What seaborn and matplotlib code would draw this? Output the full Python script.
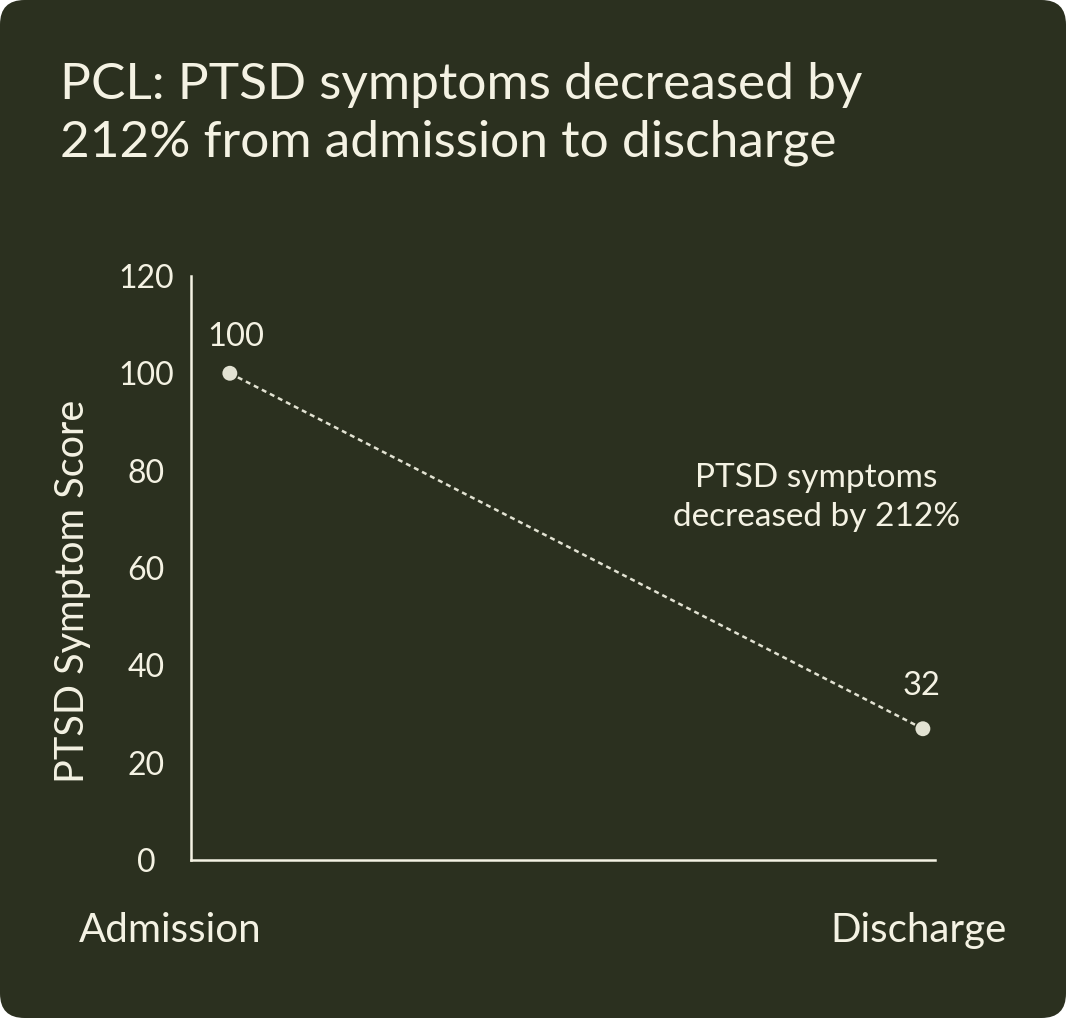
import pandas as pd
import matplotlib
matplotlib.use("Agg")
import matplotlib.pyplot as plt
from matplotlib.patches import FancyBboxPatch
from matplotlib.transforms import ScaledTranslation
import seaborn as sns

# 数据
stages = ["Admission", "Discharge"]
scores = [100, 27]              # where the dots sit on the chart
score_labels = ["100", "32"]    # numbers printed above the dots
y_ticks = [0, 20, 40, 60, 80, 100, 120]
title = "PCL: PTSD symptoms decreased by\n212% from admission to discharge"
note = "PTSD symptoms\ndecreased by 212%"
y_title = "PTSD Symptom Score"

bg = "#2b301f"
fg = "#f4f2e3"
dot = "#e2e2d2"

sns.set_theme(style="white")
plt.rcParams["font.family"] = ["Lato", "DejaVu Sans"]

df = pd.DataFrame({"stage": stages, "score": scores})
df["x"] = range(len(df))

fig = plt.figure(figsize=(10.66, 10.18), dpi=100)
fig.patch.set_facecolor("white")
card = FancyBboxPatch((0, 0), 1, 1, boxstyle="round,pad=0,rounding_size=0.023",
                      mutation_aspect=1066 / 1018, transform=fig.transFigure,
                      facecolor=bg, edgecolor="none", zorder=-10)
fig.add_artist(card)

ax = fig.add_axes([0.179, 0.155, 0.698, 0.574])
ax.set_facecolor("none")

# 虚线 + 圆点
sns.lineplot(data=df, x="x", y="score", ax=ax, color=dot, lw=1.8,
             linestyle=(0, (2, 1.6)))
sns.scatterplot(data=df, x="x", y="score", ax=ax, color=dot, s=115,
                edgecolor="none", zorder=3)

offsets = [(4, 19.5), (-1, 24)]
for x, s, lab, off in zip(df["x"], df["score"], score_labels, offsets):
    ax.annotate(lab, (x, s), xytext=off, textcoords="offset points",
                ha="center", va="baseline", fontsize=23.5, color=fg)

ax.text(0.846, 74.5, note, ha="center", va="center", fontsize=24, color=fg,
        linespacing=1.4)

ax.set_xlim(-0.0563, 1.0173)
ax.set_ylim(0, 120)
ax.set_yticks(y_ticks)
ax.set_xticks(df["x"], stages)
ax.set_xlabel("")
ax.set_ylabel("")

for side in ["top", "right"]:
    ax.spines[side].set_visible(False)
for side in ["left", "bottom"]:
    ax.spines[side].set_color(fg)
    ax.spines[side].set_linewidth(1.8)

ax.tick_params(axis="y", length=0, pad=32, labelsize=23, labelcolor=fg)
for t in ax.get_yticklabels():
    t.set_ha("center")
ax.tick_params(axis="x", length=0, pad=37, labelsize=29, labelcolor=fg)
x_shift = [-60, -4]
for t, dx in zip(ax.get_xticklabels(), x_shift):
    t.set_transform(t.get_transform() + ScaledTranslation(dx / 100, 0, fig.dpi_scale_trans))

fig.text(73 / 1066, 1 - 591 / 1018, y_title, rotation=90, ha="center", va="center",
         fontsize=28.5, color=fg)
fig.text(60 / 1066, 1 - 62 / 1018, title, ha="left", va="top", fontsize=37,
         color=fg, linespacing=1.3)

fig.savefig("out.png", dpi=100)
